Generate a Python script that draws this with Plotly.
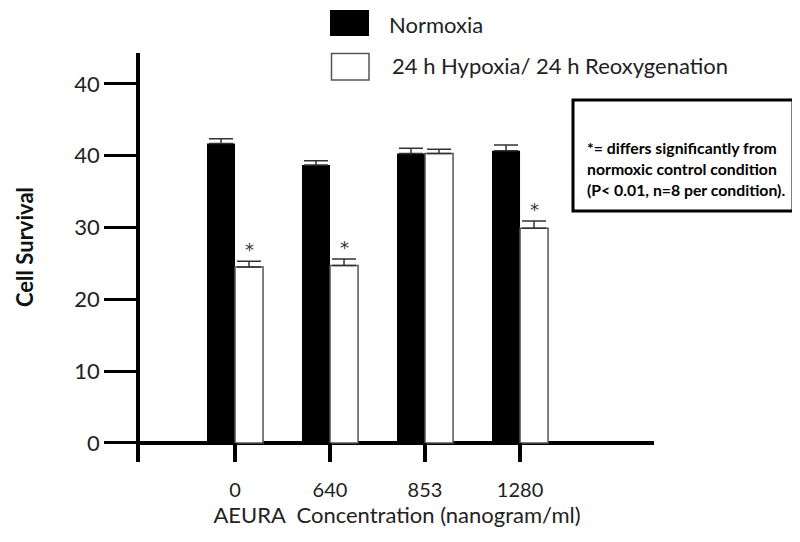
import plotly.graph_objects as go

# Cell survival per AEURA dose
doses = ["0", "640", "853", "1280"]
normoxia = [41.7, 38.7, 40.3, 40.7]
normoxia_err = [0.65, 0.6, 0.75, 0.8]
hypoxia = [24.5, 24.7, 40.3, 29.9]
hypoxia_err = [0.8, 0.9, 0.6, 1.0]
significant = [True, True, False, True]

# y tick labels as printed (the top one reads 40 in the original)
ytick_vals = [0, 10, 20, 30, 40, 50]
ytick_text = ["0", "10", "20", "30", "40", "40"]

note_lines = [
    "*= differs significantly from",
    "normoxic control condition",
    "(P< 0.01, n=8 per condition).",
]

FONT = "Lato"
# page has an 8px body margin, so the figure is a bit smaller than the window
PAGE_W, PAGE_H, OFF = 800, 542, 8
W, H = PAGE_W - OFF, PAGE_H - OFF
# plot area in window pixels
L, R, T, B = 140, 654, 53, 462


def px(x):
    return (x - L) / (R - L)


def py(y):
    return (B - y) / (B - T)


fig = go.Figure()
fig.add_trace(go.Bar(
    x=doses, y=normoxia, name="Normoxia",
    marker=dict(color="black", line=dict(color="black", width=0)),
    error_y=dict(type="data", symmetric=False, array=normoxia_err,
                 arrayminus=[0] * len(doses), color="#333", thickness=1.5, width=12),
))
fig.add_trace(go.Bar(
    x=doses, y=hypoxia, name="24 h Hypoxia/ 24 h Reoxygenation",
    marker=dict(color="white", line=dict(color="#555", width=1.5)),
    error_y=dict(type="data", symmetric=False, array=hypoxia_err,
                 arrayminus=[0] * len(doses), color="#333", thickness=1.5, width=12),
))

annotations = []
# asterisks over the hypoxia bars that differ
for i, (v, e, s) in enumerate(zip(hypoxia, hypoxia_err, significant)):
    if s:
        annotations.append(dict(x=i, y=v + e, xref="x", yref="y", text="*",
                                showarrow=False, xshift=14, yshift=-1, yanchor="bottom",
                                font=dict(family="DejaVu Sans", size=18, color="#333")))

# hand-made legend
shapes = [
    dict(type="rect", xref="paper", yref="paper", x0=px(330), x1=px(369),
         y0=py(36), y1=py(10), fillcolor="black", line=dict(width=0)),
    dict(type="rect", xref="paper", yref="paper", x0=px(331.5), x1=px(369),
         y0=py(80), y1=py(53.5), fillcolor="white", line=dict(color="#555", width=1.5)),
    # note box
    dict(type="rect", xref="paper", yref="paper", x0=px(573), x1=px(793),
         y0=py(211), y1=py(100), fillcolor="white", line=dict(color="black", width=3)),
]
annotations.append(dict(x=px(387), y=py(24), xref="paper", yref="paper", text="Normoxia",
                        showarrow=False, xanchor="left", yanchor="middle",
                        font=dict(family=FONT, size=22, color="#222")))
annotations.append(dict(x=px(390), y=py(65), xref="paper", yref="paper",
                        text="24 h Hypoxia/ 24 h Reoxygenation",
                        showarrow=False, xanchor="left", yanchor="middle",
                        font=dict(family=FONT, size=22, color="#222")))
for i, line in enumerate(note_lines):
    annotations.append(dict(x=px(585), y=py(147 + 21 * i), xref="paper", yref="paper",
                            text="<b>" + line + "</b>", showarrow=False,
                            xanchor="left", yanchor="middle",
                            font=dict(family=FONT, size=15.8, color="black")))
# y axis title
annotations.append(dict(x=px(25), y=py(247), xref="paper", yref="paper",
                        text="<b>Cell Survival</b>", textangle=-90, showarrow=False,
                        xanchor="center", yanchor="middle",
                        font=dict(family=FONT, size=22, color="#111")))

fig.update_layout(
    width=W, height=H,
    margin=dict(l=L - OFF, r=PAGE_W - R, t=T - OFF, b=PAGE_H - B),
    paper_bgcolor="white", plot_bgcolor="white",
    barmode="group", bargap=0.41, bargroupgap=0,
    showlegend=False,
    font=dict(family=FONT, color="#222"),
    shapes=shapes, annotations=annotations,
    xaxis=dict(
        type="category", range=[-1, 4.41],
        showline=False, showgrid=False, zeroline=False,
        ticks="inside", ticklen=19, tickwidth=3.5, tickcolor="black",
        tickfont=dict(family=FONT, size=20, color="#222"),
        ticklabelstandoff=14,
        title=dict(text="AEURA  Concentration (nanogram/ml)", standoff=6,
                   font=dict(family=FONT, size=22, color="#222")),
        automargin=False,
    ),
    yaxis=dict(
        range=[-2.65, 54.3],
        showline=True, linewidth=3.5, linecolor="black",
        showgrid=False,
        zeroline=True, zerolinewidth=3.5, zerolinecolor="black",
        tickmode="array", tickvals=ytick_vals, ticktext=ytick_text,
        ticks="outside", ticklen=32, tickwidth=3, tickcolor="black",
        tickfont=dict(family=FONT, size=22, color="#222"),
        automargin=False,
    ),
)

fig.write_html("out.html")
